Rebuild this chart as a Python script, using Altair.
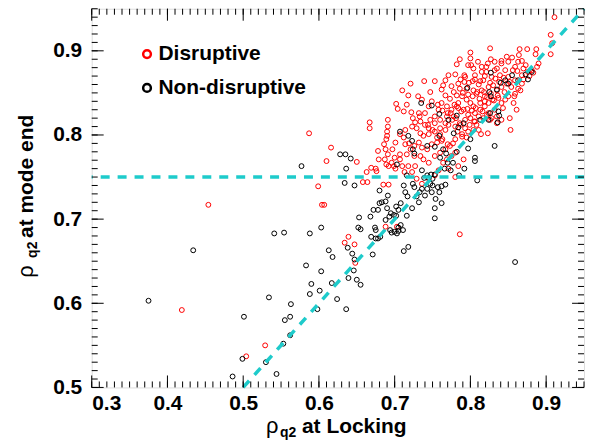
import altair as alt
import pandas as pd

# ---------------- data ----------------
red_x = [0.911,0.906,0.908,0.906,0.887,0.886,0.875,0.865,0.864,0.826,0.827,0.823,0.848,0.855,0.868,0.873,0.890,0.888,0.881,
         0.786,0.800,0.800,0.801,0.797,0.810,0.782,0.780,0.792,0.804,0.815,0.821,0.832,0.841,0.863,
         0.753,0.739,0.721,0.710,0.718,0.731,0.736,0.702,0.704,0.716,0.712,0.722,0.724,0.732,0.747,0.749,
         0.764,0.762,0.767,0.775,0.778,0.784,0.792,0.803,0.813,0.819,0.828,0.839,0.850,0.859,0.868,0.876,
         0.691,0.667,0.667,0.691,0.690,0.690,0.689,0.686,0.688,0.691,0.687,0.689,0.696,0.700,0.707,0.707,0.710,0.713,0.692,0.699,0.701,
         0.587,0.616,0.599,0.604,0.607,0.610,0.650,0.663,0.658,0.664,0.669,0.675,0.676,0.678,0.679,0.685,0.692,
         0.714,0.723,0.729,0.734,0.738,0.745,0.753,0.760,0.767,0.771,0.780,0.786,0.793,0.800,0.806,0.813,0.819,0.824,0.829,0.837,
         0.846,0.857,0.861,0.852,0.853,0.841,0.835,0.823,0.814,
         0.732,0.736,0.743,0.749,0.756,0.762,0.734,0.738,0.745,0.727,0.723,0.729,0.736,0.745,0.753,0.758,0.764,0.769,0.775,0.780,
         0.771,0.784,0.791,0.780,
         0.789,0.795,0.800,0.804,0.808,0.815,0.819,0.824,0.830,0.835,0.841,0.848,0.854,0.824,0.828,0.817,0.806,0.797,0.791,0.782,
         0.775,0.769,0.762,0.758,0.753,0.760,0.769,0.778,0.784,0.767,0.771,0.806,0.815,0.821,0.835,0.846,0.859,0.870,0.850,0.841,
         0.832,0.868,0.863,0.859,0.850,0.841,0.843,0.832,0.835,0.804,0.813,0.819,0.795,0.786,0.782,0.773,0.745,0.740,0.734,0.747,
         0.753,0.760,0.767,0.745,0.707,0.701,0.697,0.714,0.721,0.716,0.718,0.726,0.753,0.760,0.767,0.773,0.780,0.789,0.797,0.804,0.808,
         0.454,0.419,0.529,0.504,0.634,0.639,0.647,0.648,0.786,0.688,0.703,
         # denser core of the cluster
         0.787,0.793,0.798,0.806,0.811,0.817,0.826,0.833,0.838,0.844,0.852,0.790,0.797,0.803,0.809,0.812,0.818,0.822,0.827,0.831,
         0.836,0.845,0.779,0.784,0.788,0.796,0.802,0.807,0.811,0.816,0.822,0.826,0.774,0.781,0.787,0.793,0.799,0.805,0.811,0.757,
         0.763,0.770,0.776,0.783,0.789,0.795,0.744,0.750,0.756,0.763,0.770,0.777,0.727,0.733,0.740,0.712,0.719,0.726,0.862,0.856,
         0.870,0.878,0.883,0.866,0.858]
red_y = [0.940,0.919,0.909,0.896,0.902,0.896,0.902,0.902,0.895,0.903,0.890,0.885,0.893,0.892,0.888,0.883,0.885,0.881,0.877,
         0.890,0.898,0.891,0.883,0.883,0.887,0.884,0.872,0.871,0.879,0.881,0.881,0.887,0.885,0.887,
         0.864,0.864,0.861,0.853,0.847,0.846,0.842,0.837,0.831,0.836,0.828,0.827,0.820,0.826,0.851,0.840,
         0.859,0.854,0.847,0.858,0.851,0.861,0.863,0.864,0.864,0.870,0.869,0.871,0.869,0.865,0.871,0.875,
         0.818,0.815,0.808,0.810,0.804,0.799,0.795,0.789,0.783,0.777,0.771,0.765,0.767,0.773,0.777,0.771,0.763,0.756,0.763,0.763,0.760,
         0.802,0.785,0.739,0.717,0.717,0.769,0.768,0.756,0.744,0.744,0.761,0.760,0.757,0.781,0.771,0.741,0.741,
         0.806,0.810,0.808,0.802,0.799,0.801,0.804,0.801,0.806,0.812,0.810,0.814,0.818,0.820,0.826,0.830,0.834,0.838,0.842,0.844,
         0.842,0.838,0.830,0.820,0.806,0.818,0.814,0.802,0.801,
         0.791,0.785,0.783,0.789,0.791,0.793,0.775,0.771,0.767,0.763,0.756,0.748,0.742,0.748,0.752,0.758,0.767,0.771,0.775,0.779,
         0.760,0.763,0.771,0.750,
         0.846,0.842,0.838,0.853,0.849,0.853,0.846,0.857,0.859,0.853,0.857,0.861,0.857,0.826,0.820,0.820,0.816,0.824,0.830,0.834,
         0.830,0.834,0.838,0.830,0.822,0.818,0.822,0.822,0.838,0.865,0.871,0.871,0.875,0.875,0.879,0.877,0.881,0.879,0.887,0.888,
         0.877,0.861,0.855,0.849,0.846,0.838,0.832,0.830,0.822,0.834,0.838,0.840,0.855,0.855,0.847,0.843,0.834,0.826,0.816,0.818,
         0.814,0.808,0.814,0.808,0.801,0.791,0.783,0.789,0.783,0.777,0.763,0.775,0.775,0.779,0.783,0.787,0.795,0.801,0.804,0.806,0.812,
         0.717,0.592,0.550,0.537,0.672,0.679,0.670,0.648,0.682,0.691,0.691,
         0.866,0.869,0.862,0.866,0.860,0.865,0.862,0.867,0.863,0.868,0.863,0.850,0.848,0.846,0.851,0.843,0.851,0.845,0.849,0.841,
         0.847,0.851,0.836,0.832,0.828,0.831,0.829,0.832,0.822,0.828,0.824,0.818,0.826,0.820,0.812,0.808,0.812,0.816,0.806,0.836,
         0.829,0.826,0.818,0.804,0.798,0.797,0.812,0.806,0.797,0.795,0.789,0.790,0.815,0.822,0.812,0.797,0.790,0.787,0.876,0.877,
         0.866,0.870,0.874,0.853,0.846]

black_x = [0.827,0.855,0.840,0.825,0.827,0.796,0.835,0.873,0.881,0.863,0.876,0.846,0.850,
           0.735,0.749,0.759,0.782,0.771,0.791,0.784,0.778,0.759,0.743,0.753,0.764,0.768,0.760,0.782,0.800,0.797,
           0.813,0.826,0.837,0.838,0.836,0.824,0.832,0.806,0.806,0.792,0.785,0.777,0.770,0.774,0.766,
           0.707,0.718,0.723,0.724,0.726,0.703,0.716,0.724,0.726,0.736,0.743,0.739,0.745,0.748,0.753,0.750,0.747,0.743,
           0.736,0.733,0.729,0.732,0.740,0.750,0.757,0.762,0.767,0.759,0.749,0.754,0.762,0.753,0.753,0.723,0.714,0.717,
           0.712,0.708,0.702,0.699,0.695,0.705,0.691,0.688,0.683,0.680,0.678,0.672,0.690,0.653,0.693,0.668,0.688,0.809,
           0.628,0.635,0.642,0.636,0.634,0.647,0.577,0.680,0.702,0.716,
           0.603,0.652,0.655,0.674,0.675,0.669,0.675,0.678,0.681,0.694,0.696,0.700,0.705,0.703,0.705,0.708,0.711,
           0.588,0.613,0.618,0.638,0.644,0.647,0.646,0.639,0.650,0.655,0.671,0.712,0.718,0.859,
           0.583,0.603,0.590,0.588,0.601,0.617,0.624,0.598,0.636,0.563,0.562,0.562,
           0.375,0.434,0.541,0.554,0.534,0.501,0.555,0.553,0.530,0.499,0.486,0.544]
black_y = [0.874,0.871,0.862,0.851,0.846,0.856,0.854,0.872,0.875,0.865,0.866,0.865,0.861,
           0.838,0.835,0.825,0.823,0.818,0.814,0.809,0.802,0.799,0.787,0.786,0.783,0.778,0.773,0.780,0.795,0.784,
           0.818,0.826,0.828,0.823,0.815,0.818,0.787,0.773,0.769,0.760,0.752,0.767,0.767,0.758,0.760,
           0.804,0.799,0.793,0.783,0.778,0.765,0.752,0.742,0.738,0.758,0.752,0.749,0.749,0.753,0.753,0.748,0.742,0.736,
           0.736,0.732,0.727,0.720,0.728,0.740,0.738,0.739,0.741,0.732,0.732,0.724,0.719,0.713,0.701,0.713,0.732,0.727,
           0.740,0.719,0.715,0.705,0.707,0.711,0.728,0.721,0.720,0.719,0.711,0.711,0.713,0.702,0.703,0.703,0.699,0.746,
           0.777,0.777,0.772,0.760,0.743,0.740,0.763,0.734,0.704,0.704,
           0.690,0.690,0.688,0.690,0.687,0.679,0.677,0.677,0.679,0.687,0.684,0.685,0.686,0.683,0.690,0.693,0.687,
           0.683,0.663,0.655,0.666,0.659,0.652,0.639,0.630,0.628,0.622,0.658,0.662,0.667,0.649,
           0.645,0.638,0.623,0.611,0.615,0.624,0.605,0.593,0.593,0.599,0.584,0.562,
           0.603,0.663,0.683,0.684,0.607,0.584,0.580,0.552,0.530,0.534,0.513,0.516]

categories = ["Disruptive", "Non-disruptive"]
colors = ["#FF0000", "#000000"]
threshold = [0.75]
diag = [0.5, 0.95]
x_major = [0.3, 0.4, 0.5, 0.6, 0.7, 0.8, 0.9]
y_major = [0.5, 0.6, 0.7, 0.8, 0.9]
x_minor = [round(0.30 + 0.01 * i, 2) for i in range(66)]
y_minor = [round(0.50 + 0.01 * i, 2) for i in range(46)]

# ---------------- chart ----------------
W, H = 494, 380
FONT = "Liberation Sans"
CYAN = "#1ECBCB"

xs = alt.Scale(domain=[0.3, 0.95], nice=False, zero=False)
ys = alt.Scale(domain=[0.5, 0.95], nice=False, zero=False)
XAX = alt.Axis(values=x_major, format=".1f", ticks=False, domain=False, grid=False, title=None,
               labelFont=FONT, labelFontSize=21, labelFontWeight="bold", labelColor="black", labelPadding=5)
YAX = alt.Axis(values=y_major, format=".1f", ticks=False, domain=False, grid=False, title=None,
               labelFont=FONT, labelFontSize=21, labelFontWeight="bold", labelColor="black", labelPadding=10)


def X(f):
    return alt.X(f, scale=xs, axis=XAX, title=None)


def Y(f):
    return alt.Y(f, scale=ys, axis=YAX, title=None)


pts = pd.DataFrame({
    "x": red_x + black_x,
    "y": red_y + black_y,
    "kind": [categories[0]] * len(red_x) + [categories[1]] * len(black_x),
})

points = alt.Chart(pts).mark_point(shape="circle", filled=False, size=24, strokeWidth=1, opacity=1).encode(
    x=X("x:Q"),
    y=Y("y:Q"),
    color=alt.Color("kind:N", scale=alt.Scale(domain=categories, range=colors),
                    legend=alt.Legend(orient="none", legendX=45, legendY=35, title=None,
                                      labelFont=FONT, labelFontSize=21, labelFontWeight="bold",
                                      labelColor="black", symbolType="circle", symbolSize=60,
                                      symbolStrokeWidth=2.5, rowPadding=12, labelOffset=1, padding=0)),
)

hline = alt.Chart(pd.DataFrame({"y": threshold})).mark_rule(
    color=CYAN, strokeWidth=3.5, strokeDash=[9, 8]).encode(y=Y("y:Q"))

dline = alt.Chart(pd.DataFrame({"x": diag, "y": diag})).mark_line(
    color=CYAN, strokeWidth=3.5, strokeDash=[9, 8]).encode(x=X("x:Q"), y=Y("y:Q"))


def tick_layer(vals, side, length):
    df = pd.DataFrame({"x": vals, "y": vals})
    base = alt.Chart(df).mark_rule(color="black", strokeWidth=1)
    if side == "bottom":
        return base.encode(x=X("x:Q"), y=alt.value(H), y2=alt.value(H - length))
    if side == "top":
        return base.encode(x=X("x:Q"), y=alt.value(0), y2=alt.value(length))
    if side == "left":
        return base.encode(y=Y("y:Q"), x=alt.value(0), x2=alt.value(length))
    return base.encode(y=Y("y:Q"), x=alt.value(W), x2=alt.value(W - length))


ticks = [
    tick_layer(x_minor, "bottom", 6), tick_layer(x_major, "bottom", 12),
    tick_layer(x_minor, "top", 6), tick_layer(x_major, "top", 12),
    tick_layer(y_minor, "left", 6), tick_layer(y_major, "left", 12),
    tick_layer(y_minor, "right", 6), tick_layer(y_major, "right", 12),
]


def txt(s, x, y, size, weight="bold", angle=0):
    return alt.Chart(pd.DataFrame({"t": [s]})).mark_text(
        font=FONT, fontSize=size, fontWeight=weight, color="black", align="left",
        baseline="alphabetic", angle=angle).encode(text="t:N", x=alt.value(x), y=alt.value(y))


titles = [
    txt("ρ", 175, 426, 22, "normal"),
    txt("q2", 189, 430, 14),
    txt("at Locking", 211, 426, 21),
    txt("ρ", -59, 270, 22, "normal", 270),
    txt("q2", -55, 250, 14, "bold", 270),
    txt("at mode end", -59, 230, 21, "bold", 270),
]

chart = alt.layer(points, hline, dline, *ticks, *titles).properties(
    width=W, height=H,
    autosize=alt.AutoSizeParams(type="none"),
    padding={"left": 84, "top": 0, "right": 4, "bottom": 55},
).configure_view(stroke="black", strokeWidth=1.5).configure(background="white")

chart.save("out.html", embed_options={"renderer": "svg", "actions": False})
